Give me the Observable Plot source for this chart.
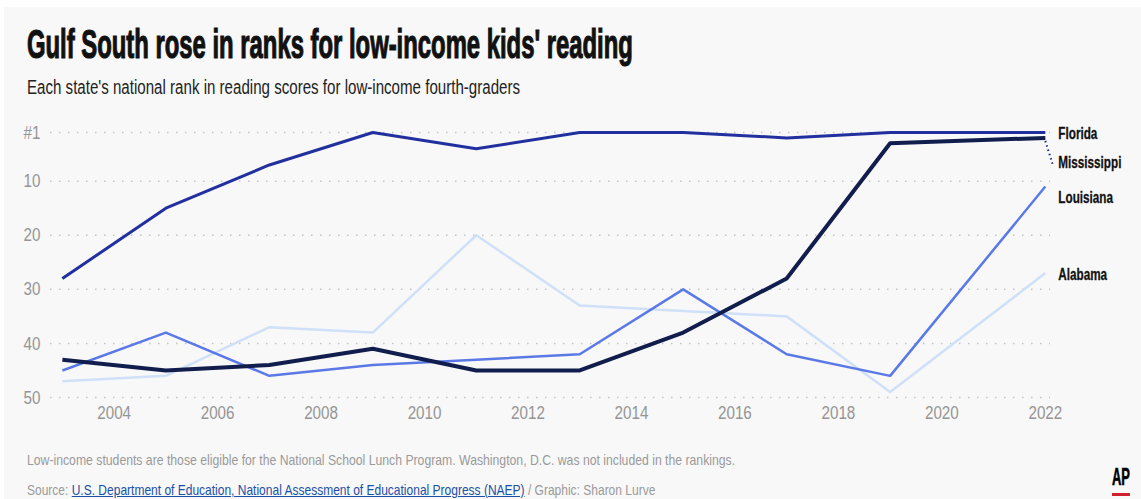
<!DOCTYPE html>
<html>
<head>
<meta charset="utf-8">
<script src="https://cdn.jsdelivr.net/npm/d3@7"></script>
<script src="https://cdn.jsdelivr.net/npm/@observablehq/plot@0.6"></script>
<style>
  html, body { margin: 0; padding: 0; background: #ffffff; }
  #wrap { position: relative; width: 1141px; height: 499px; overflow: hidden; background: #ffffff; }
  #panel { position: absolute; left: 4px; top: 7px; right: 0; bottom: 0; background: #f8f8f8; }
  .fit { position: absolute; white-space: nowrap; transform-origin: 0 0; }
  #title { left: 27px; top: 24px; font-family: "Liberation Sans Narrow", "Liberation Sans", sans-serif; font-weight: 700; font-size: 41px; line-height: 40px; color: #111; -webkit-text-stroke: 1.2px #111; }
  #subtitle { left: 27px; top: 76px; font-family: "Liberation Sans Narrow", "Liberation Sans", sans-serif; font-size: 20px; line-height: 22px; color: #222; }
  #chart { position: absolute; left: 0; top: 110px; }
  #note { left: 27px; top: 451px; font-family: "Liberation Sans Narrow", "Liberation Sans", sans-serif; font-size: 15px; line-height: 18px; color: #9a9a9a; }
  #source { left: 27px; top: 481px; font-family: "Liberation Sans Narrow", "Liberation Sans", sans-serif; font-size: 15px; line-height: 18px; color: #9a9a9a; }
  #source a { color: #1b4fa8; text-decoration: underline; }
  #ap { left: 1112px; top: 466px; font-family: "Liberation Sans Narrow", "Liberation Sans", sans-serif; font-weight: 700; font-size: 23px; line-height: 23px; color: #000; -webkit-text-stroke: 0.6px #000; }
  #apbar { position: absolute; left: 1112px; top: 493px; width: 18px; height: 3px; background: #d0202e; }
</style>
</head>
<body>
<div id="wrap">
  <div id="panel"></div>
  <div id="title" class="fit" data-w="606">Gulf South rose in ranks for low-income kids' reading</div>
  <div id="subtitle" class="fit" data-w="493">Each state's national rank in reading scores for low-income fourth-graders</div>
  <div id="chart"></div>
  <div id="note" class="fit" data-w="708">Low-income students are those eligible for the National School Lunch Program. Washington, D.C. was not included in the rankings.</div>
  <div id="source" class="fit" data-w="628">Source: <a>U.S. Department of Education, National Assessment of Educational Progress (NAEP)</a> / Graphic: Sharon Lurve</div>
  <div id="ap" class="fit" data-w="18">AP</div>
  <div id="apbar"></div>
</div>
<script>
// ---- data ----
const years = [2003, 2005, 2007, 2009, 2011, 2013, 2015, 2017, 2019, 2022];
const florida = [28, 15, 7, 1, 4, 1, 1, 2, 1, 1];
const mississippi = [43, 45, 44, 41, 45, 45, 38, 28, 3, 2];
const louisiana = [45, 38, 46, 44, 43, 42, 30, 42, 46, 11];
const alabama = [47, 46, 37, 38, 20, 33, 34, 35, 49, 27];
const stateNames = ["Alabama", "Louisiana", "Florida", "Mississippi"];
const xTicks = [2004, 2006, 2008, 2010, 2012, 2014, 2016, 2018, 2020, 2022];
const yTicks = [1, 10, 20, 30, 40, 50];
const yTickLabels = ["#1", "10", "20", "30", "40", "50"];

// ---- styles ----
const style = {
  Alabama: { stroke: "#cfe0f8", width: 2.5, dy: 2 },
  Louisiana: { stroke: "#5a79e6", width: 2.5, dy: 11 },
  Florida: { stroke: "#21309e", width: 3, dy: 1 },
  Mississippi: { stroke: "#111d4c", width: 4, dy: 25 }
};

const seriesValues = { Florida: florida, Mississippi: mississippi, Louisiana: louisiana, Alabama: alabama };
const rows = stateNames.flatMap(s => years.map((y, i) => ({ state: s, year: y, rank: seriesValues[s][i] })));
const lastRows = stateNames.map(s => rows.filter(r => r.state === s).at(-1));

const font = "'Liberation Sans Narrow', 'Liberation Sans', sans-serif";

const marks = [
  Plot.ruleY(yTicks, { stroke: "#c4c4c4", strokeWidth: 1.5, strokeDasharray: "1.5,7.5" }),
  Plot.axisY({ ticks: yTicks, tickFormat: d => yTickLabels[yTicks.indexOf(d)], tickSize: 0, tickPadding: 10, fontSize: 19, fill: "#959595", label: null }),
  Plot.axisX({ ticks: xTicks, tickFormat: d => String(d), tickSize: 0, tickPadding: 8, fontSize: 19, fill: "#959595", label: null })
];
for (const s of stateNames) {
  marks.push(Plot.line(rows.filter(r => r.state === s), {
    x: "year", y: "rank", stroke: style[s].stroke, strokeWidth: style[s].width,
    strokeLinejoin: "round", strokeLinecap: "butt", curve: "linear"
  }));
}
// dotted leader to the Mississippi label
marks.push(Plot.link(lastRows.filter(r => r.state === "Mississippi"), {
  x1: "year", y1: "rank", x2: d => d.year + 0.15, y2: d => d.rank + 4.6,
  stroke: "#1e2f70", strokeWidth: 2, strokeDasharray: "1.5,3", dy: 3
}));
for (const s of stateNames) {
  marks.push(Plot.text(lastRows.filter(r => r.state === s), {
    x: "year", y: "rank", text: "state", dx: 13, dy: style[s].dy,
    textAnchor: "start", fontSize: 16.5, fontWeight: 700, fill: "#111", stroke: "#111", strokeWidth: 0.3,
    className: "state-label"
  }));
}

const chart = Plot.plot({
  width: 1141,
  height: 330,
  marginLeft: 50,
  marginRight: 91,
  marginTop: 22,
  marginBottom: 43,
  x: { domain: [2002.77, 2022.1] },
  y: { domain: [1, 50], reverse: true },
  style: { background: "transparent", fontFamily: font, overflow: "visible" },
  marks
});
document.getElementById("chart").appendChild(chart);

// condense SVG texts horizontally (no narrow font installed)
chart.querySelectorAll("text").forEach(t => {
  const isLabel = t.closest(".state-label") !== null;
  const k = isLabel ? 0.71 : 0.8;
  const tr = t.getAttribute("transform");
  if (tr) {
    t.setAttribute("transform", `${tr} scale(${k},1)`);
  } else {
    const x = +(t.getAttribute("x") || 0), y = +(t.getAttribute("y") || 0);
    t.setAttribute("transform", `translate(${x},${y}) scale(${k},1) translate(${-x},${-y})`);
  }
});

// fit condensed text widths
document.querySelectorAll(".fit").forEach(el => {
  const target = +el.dataset.w;
  const w = el.scrollWidth;
  el.style.transform = `scaleX(${target / w})`;
});
</script>
</body>
</html>
